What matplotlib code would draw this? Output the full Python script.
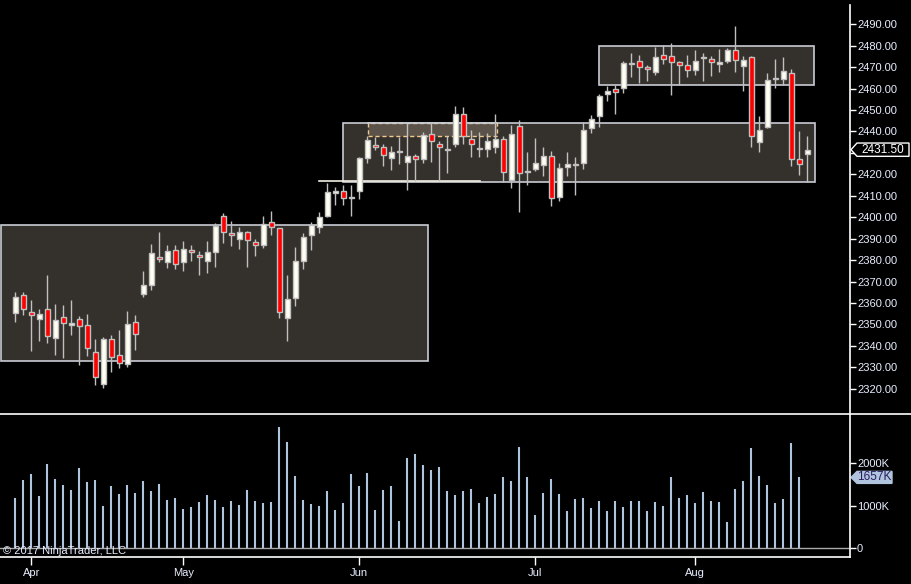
import matplotlib
matplotlib.use("Agg")
import matplotlib.pyplot as plt
from matplotlib.patches import Rectangle, Polygon
from matplotlib.lines import Line2D
import matplotlib.transforms as mtransforms

plt.rcParams['font.family'] = ['Liberation Sans', 'DejaVu Sans']

# daily OHLC (index 0 = Mar 30 2017)
opens = [2355.2, 2363.6, 2355.7, 2352.4, 2357.0, 2343.5, 2353.3, 2349.6, 2352.4, 2349.6,
         2337.0, 2322.1, 2343.0, 2335.6, 2331.4, 2351.0, 2364.1, 2368.3, 2381.3, 2379.3,
         2384.6, 2379.3, 2384.6, 2382.2, 2379.8, 2383.9, 2400.4, 2392.5, 2389.7, 2393.0,
         2388.3, 2386.9, 2397.6, 2394.8, 2352.9, 2362.2, 2379.8, 2391.6, 2395.3, 2400.7,
         2411.2, 2412.1, 2409.1, 2412.1, 2427.5, 2433.5, 2432.6, 2427.5, 2430.8, 2425.6,
         2428.4, 2427.0, 2438.7, 2434.0, 2431.4, 2434.0, 2448.0, 2436.3, 2432.1, 2431.7,
         2432.6, 2436.3, 2417.2, 2442.4, 2421.3, 2422.4, 2424.2, 2428.4, 2409.6, 2423.3,
         2424.5, 2425.1, 2441.5, 2447.1, 2457.3, 2459.7, 2460.1, 2471.6, 2472.7, 2469.9,
         2467.6, 2475.5, 2475.1, 2472.3, 2470.9, 2468.5, 2474.4, 2473.7, 2471.3, 2472.7,
         2477.9, 2470.4, 2474.6, 2434.9, 2441.9, 2464.5, 2464.6, 2467.1, 2427.0, 2429.3]
highs = [2365.1, 2365.1, 2361.4, 2357.2, 2373.1, 2359.5, 2358.9, 2361.4, 2353.9, 2354.9,
         2343.0, 2344.3, 2345.1, 2347.4, 2356.3, 2354.4, 2374.9, 2387.5, 2393.1, 2387.1,
         2387.1, 2388.9, 2387.1, 2384.3, 2388.9, 2397.2, 2401.8, 2398.3, 2395.3, 2393.4,
         2389.9, 2400.6, 2402.9, 2395.0, 2373.1, 2386.1, 2392.8, 2397.8, 2402.5, 2416.0,
         2414.0, 2414.9, 2414.9, 2428.3, 2437.9, 2437.6, 2434.2, 2433.2, 2437.6, 2443.8,
         2429.4, 2439.6, 2443.8, 2435.4, 2437.7, 2451.9, 2451.4, 2440.5, 2439.6, 2439.1,
         2448.2, 2437.9, 2443.0, 2445.4, 2430.3, 2437.0, 2432.8, 2430.7, 2425.1, 2430.4,
         2428.1, 2444.3, 2447.5, 2457.5, 2461.4, 2461.5, 2472.7, 2476.6, 2475.7, 2471.0,
         2479.4, 2480.3, 2481.3, 2472.7, 2475.7, 2478.0, 2476.6, 2475.2, 2478.5, 2478.8,
         2489.2, 2475.1, 2475.0, 2447.1, 2467.3, 2473.8, 2474.7, 2469.0, 2440.2, 2437.9]
lows = [2351.3, 2354.6, 2337.8, 2342.4, 2341.5, 2335.9, 2334.5, 2345.1, 2331.2, 2335.4,
        2321.7, 2320.5, 2328.0, 2329.5, 2330.3, 2338.1, 2362.9, 2366.1, 2379.1, 2376.2,
        2375.9, 2374.9, 2379.8, 2373.0, 2374.2, 2376.9, 2387.8, 2386.8, 2385.3, 2376.9,
        2382.1, 2385.8, 2391.9, 2352.9, 2342.4, 2358.6, 2375.9, 2384.7, 2392.8, 2400.3,
        2405.7, 2405.6, 2400.7, 2408.5, 2425.2, 2431.2, 2424.1, 2422.2, 2425.0, 2412.9,
        2416.8, 2425.5, 2425.9, 2416.8, 2420.5, 2432.9, 2434.3, 2428.3, 2428.3, 2428.3,
        2429.8, 2416.6, 2413.8, 2402.6, 2415.2, 2421.7, 2419.4, 2405.3, 2407.7, 2419.4,
        2410.5, 2422.7, 2439.5, 2442.1, 2454.4, 2448.3, 2458.1, 2465.4, 2462.8, 2463.7,
        2466.5, 2471.6, 2457.2, 2461.5, 2465.4, 2466.3, 2463.7, 2466.0, 2467.7, 2472.1,
        2467.9, 2459.0, 2432.9, 2430.6, 2441.5, 2460.4, 2461.7, 2424.1, 2419.9, 2416.3]
closes = [2362.7, 2357.4, 2354.3, 2354.7, 2344.5, 2351.9, 2350.5, 2350.5, 2349.1, 2338.9,
          2325.3, 2343.0, 2335.0, 2331.9, 2350.1, 2345.4, 2368.2, 2383.2, 2380.4, 2384.1,
          2378.3, 2385.1, 2383.6, 2381.3, 2383.6, 2395.9, 2393.0, 2391.6, 2393.3, 2389.2,
          2386.9, 2396.7, 2395.3, 2355.7, 2361.7, 2379.4, 2390.6, 2396.2, 2400.0, 2411.6,
          2412.1, 2408.8, 2409.1, 2427.5, 2435.9, 2432.6, 2428.9, 2430.3, 2430.8, 2428.4,
          2427.0, 2438.2, 2435.4, 2432.6, 2431.4, 2448.0, 2437.7, 2434.0, 2432.1, 2435.4,
          2436.3, 2420.9, 2438.7, 2420.5, 2421.3, 2425.2, 2428.4, 2408.8, 2422.8, 2424.7,
          2424.5, 2440.5, 2445.7, 2456.4, 2458.7, 2458.3, 2471.8, 2471.6, 2469.9, 2469.0,
          2474.6, 2473.7, 2472.3, 2470.9, 2468.5, 2472.7, 2474.4, 2472.3, 2472.3, 2477.9,
          2473.2, 2473.2, 2437.7, 2440.5, 2463.9, 2464.5, 2468.1, 2427.0, 2424.7, 2431.5]

# volume in thousands (last bar has none yet)
volume = [1176, 1597, 1737, 1223, 1970, 1620, 1480, 1363, 1877, 1550,
          1597, 989, 1456, 1269, 1480, 1293, 1573, 1340, 1503, 1129,
          1176, 919, 966, 1083, 1246, 1129, 966, 1106, 1012, 1363,
          1106, 1059, 1083, 2835, 2484, 1690, 1129, 1036, 989, 1340,
          896, 1059, 1737, 1456, 1760, 896, 1363, 1456, 639, 2111,
          2204, 1947, 1830, 1900, 1340, 1246, 1340, 1386, 1059, 1199,
          1269, 1667, 1573, 2368, 1667, 779, 1293, 1620, 1269, 872,
          1153, 1176, 942, 1106, 872, 1106, 966, 1106, 1106, 872,
          1083, 989, 1667, 1176, 1246, 1059, 1316, 1106, 1083, 615,
          1386, 1573, 2344, 1690, 1480, 1059, 1153, 2461, 1657]

month_labels = ['Apr', 'May', 'Jun', 'Jul', 'Aug']
month_idx = [2, 21, 43, 65, 85]

# drawn zones: (left idx, right idx, low price, high price)
zones = [(-1.8, 51.6, 2332.8, 2396.2),
         (41.0, 100.0, 2416.3, 2443.8),
         (73.0, 99.9, 2461.6, 2479.7)]
highlight = (44.1, 60.2, 2437.9, 2443.8)
support = (38.0, 58.1, 2416.8)

BG = 'black'
TXT = '#e8eeff'
GRAY = '#c0c0c0'

fig = plt.figure(figsize=(9.11, 5.84), dpi=100, facecolor=BG)
W, H = 911, 584
xl = (-15.3 / 8, (850 - 15.3) / 8)

ax = fig.add_axes([0, (H - 413) / H, 850 / W, 413 / H], facecolor=BG)
axv = fig.add_axes([0, (H - 557) / H, 850 / W, (557 - 414) / H], facecolor=BG)

# zones
for x0, x1, lo, hi in zones:
    ax.add_patch(Rectangle((x0, lo), x1 - x0, hi - lo, facecolor='#34302b',
                           edgecolor='#c8ccd4', lw=1.2, zorder=1))
x0, x1, lo, hi = highlight
ax.add_patch(Rectangle((x0, lo), x1 - x0, hi - lo, facecolor='#5b5249',
                       edgecolor='#f0c890', lw=1.0, ls=(0, (3, 2)), zorder=1.5))
ax.plot([x0, x1], [hi, hi], color='#c8ccd4', lw=1.2, zorder=1.6)
ax.plot([support[0], support[1]], [support[2], support[2]], color='#f2eee0', lw=1.2, zorder=1.7)

# candles
idx = list(range(len(opens)))
ax.vlines(idx, lows, highs, color=GRAY, lw=1, zorder=2)
for i in idx:
    o, c = opens[i], closes[i]
    if c > o:
        fc = '#fffff2'
    elif c < o:
        fc = '#ff0000'
    else:
        fc = GRAY
    h = max(abs(c - o), 0.5)
    ax.bar(i, h, bottom=min(o, c) - (h - abs(c - o)) / 2, width=0.66,
           color=fc, edgecolor=GRAY, lw=1, zorder=3)

ax.set_xlim(*xl)
ax.set_ylim(2308.7, 2501.3)
ax.set_yticks(range(2320, 2491, 10))
ax.set_yticklabels([f'{v:.2f}' for v in range(2320, 2491, 10)])
ax.yaxis.tick_right()
ax.tick_params(axis='y', colors='white', labelcolor=TXT, length=4, width=1, pad=1, labelsize=8)
ax.set_xticks([])
for s in ax.spines.values():
    s.set_visible(False)

# volume
axv.vlines(idx[:len(volume)], 0, volume, color='#b0c4de', lw=1.5)
axv.axhline(0, color='#a8a8a8', lw=1)
axv.set_xlim(*xl)
axv.set_ylim(-203, 3138)
axv.set_yticks([0, 1000, 2000])
axv.set_yticklabels(['0', '1000K', '2000K'])
axv.yaxis.tick_right()
axv.tick_params(axis='y', colors='white', labelcolor=TXT, length=4, width=1, pad=1, labelsize=8)
axv.set_xticks(month_idx)
axv.set_xticklabels(month_labels)
axv.tick_params(axis='x', colors='white', labelcolor=TXT, length=6, width=1, pad=2, labelsize=8)
for k, s in axv.spines.items():
    s.set_visible(k == 'bottom')
axv.spines['bottom'].set_color('white')
axv.spines['bottom'].set_linewidth(1.2)

# frame lines
fig.add_artist(Line2D([850 / W, 850 / W], [(H - 5) / H, (H - 557) / H], color='white', lw=1.2))
fig.add_artist(Line2D([0, 1], [(H - 414) / H, (H - 414) / H], color='white', lw=1.2))

# last value markers
def marker(a, yval, half, right, label, fc, ec, tc):
    tr = mtransforms.blended_transform_factory(fig.transFigure, a.transData)
    pts = [(851 / W, yval), (857 / W, yval + half), (right / W, yval + half),
           (right / W, yval - half), (857 / W, yval - half)]
    a.add_patch(Polygon(pts, closed=True, transform=tr, facecolor=fc, edgecolor=ec,
                        lw=1, clip_on=False, zorder=10))
    a.text((857 + right) / 2 / W, yval, label, transform=tr, ha='center', va='center',
           color=tc, fontsize=8.5, zorder=11, clip_on=False)

marker(ax, closes[-1], 3.1, 909, f'{closes[-1]:.2f}', 'black', 'white', 'white')
marker(axv, volume[-1], 140, 892, f'{volume[-1]}K', '#b0c4de', '#b0c4de', '#2a1a5e')

fig.text(3 / W, (H - 551) / H, '\u00a9 2017 NinjaTrader, LLC', color=TXT, fontsize=8,
         ha='left', va='center')

fig.savefig('out.png', dpi=100, facecolor=BG)
